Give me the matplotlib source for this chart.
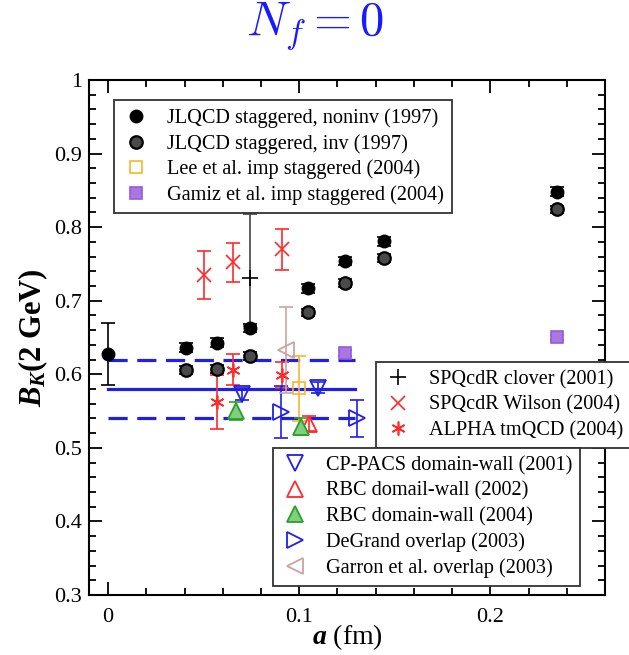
import matplotlib
matplotlib.use('Agg')
import matplotlib.pyplot as plt
from matplotlib.ticker import FixedLocator

plt.rcParams['mathtext.fontset'] = 'custom'
plt.rcParams['mathtext.rm'] = 'Liberation Serif'
plt.rcParams['mathtext.it'] = 'Liberation Serif:italic:bold'
plt.rcParams['mathtext.bf'] = 'Liberation Serif:bold'
plt.rcParams['font.family'] = ['Liberation Serif', 'DejaVu Serif']

# ---------------- data ----------------
jl_noninv_a = [0.0, 0.0405, 0.057, 0.0745, 0.1047, 0.1238, 0.1446, 0.235]
jl_noninv_b = [0.628, 0.636, 0.643, 0.663, 0.717, 0.754, 0.781, 0.848]
jl_noninv_err = [0.042, 0.006, 0.006, 0.006, 0.006, 0.006, 0.006, 0.006]
jl_inv_a = [0.0405, 0.057, 0.0745, 0.1047, 0.1238, 0.1446, 0.235]
jl_inv_b = [0.606, 0.607, 0.625, 0.684, 0.724, 0.758, 0.824]
jl_inv_err = [0.005, 0.005, 0.005, 0.005, 0.005, 0.005, 0.005]
lee_a = [0.100]
lee_b = [0.581]
lee_err = [0.044]
gamiz_a = [0.1238, 0.235]
gamiz_b = [0.629, 0.650]
gamiz_err = [0.004, 0.004]
clover_a = [0.074]
clover_b = [0.731]
clover_err_lo = [0.066]
clover_err_hi = [0.087]
wilson_a = [0.0502, 0.0656, 0.091]
wilson_b = [0.735, 0.752, 0.770]
wilson_err = [0.033, 0.027, 0.028]
alpha_a = [0.057, 0.0656, 0.091]
alpha_b = [0.562, 0.606, 0.599]
alpha_err = [0.037, 0.021, 0.018]
cppacs_a = [0.0703, 0.110]
cppacs_b = [0.573, 0.582]
cppacs_err = [0.008, 0.008]
rbc02_a = [0.105]
rbc02_b = [0.533]
rbc02_err = [0.010]
rbc04_a = [0.067, 0.101]
rbc04_b = [0.550, 0.529]
rbc04_err = [0.012, 0.012]
degrand_a = [0.0904, 0.130]
degrand_b = [0.549, 0.540]
degrand_err = [0.035, 0.025]
garron_a = [0.093]
garron_b = [0.633]
garron_err = [0.058]
band_a = [0.0, 0.129]
band_center = 0.58
band_lo = 0.54
band_hi = 0.62

x_ticks = [0.0, 0.1, 0.2]
x_ticklabels = ['0', '0.1', '0.2']
y_ticks = [0.3, 0.4, 0.5, 0.6, 0.7, 0.8, 0.9, 1.0]
y_ticklabels = ['0.3', '0.4', '0.5', '0.6', '0.7', '0.8', '0.9', '1']
x_minor = [0.02, 0.04, 0.06, 0.08, 0.12, 0.14, 0.16, 0.18, 0.22, 0.24]
y_minor = [0.32, 0.34, 0.36, 0.38, 0.42, 0.44, 0.46, 0.48, 0.52, 0.54, 0.56, 0.58,
           0.62, 0.64, 0.66, 0.68, 0.72, 0.74, 0.76, 0.78, 0.82, 0.84, 0.86, 0.88,
           0.92, 0.94, 0.96, 0.98]

labels1 = ["JLQCD staggered, noninv (1997)", "JLQCD staggered, inv (1997)",
           "Lee et al. imp staggered (2004)", "Gamiz et al. imp staggered (2004)"]
labels2 = ["SPQcdR clover (2001)", "SPQcdR Wilson (2004)", "ALPHA tmQCD (2004)"]
labels3 = ["CP-PACS domain-wall (2001)", "RBC domail-wall (2002)", "RBC domain-wall (2004)",
           "DeGrand overlap (2003)", "Garron et al. overlap (2003)"]

# ---------------- figure ----------------
W, H = 629, 655
fig = plt.figure(figsize=(W / 100, H / 100), dpi=100)
ax = fig.add_axes([89 / W, 1 - 595 / H, (605 - 89) / W, (595 - 80) / H])

BLUE = '#1f1fe6'
RED = '#ff2a2a'
GREEN = '#2aa02a'
ORANGE = '#f5b82e'
PURPLE = '#9a5ad6'
BROWN = '#c8a4a4'
cap = 10.5
elw = 1.2

# horizontal band lines
ax.plot(band_a, [band_center] * 2, color=BLUE, lw=2.3, zorder=1)
ax.plot(band_a, [band_hi] * 2, color=BLUE, lw=2.3, ls=(0, (6, 3)), zorder=1)
ax.plot(band_a, [band_lo] * 2, color=BLUE, lw=2.3, ls=(0, (6, 3)), zorder=1)

def ebar(x, y, yerr, color):
    ax.errorbar(x, y, yerr=yerr, fmt='none', ecolor=color, elinewidth=elw,
                capsize=cap / 2, capthick=elw, zorder=2)

ebar(jl_noninv_a, jl_noninv_b, jl_noninv_err, 'black')
ebar(jl_inv_a, jl_inv_b, jl_inv_err, 'black')
ebar(lee_a, lee_b, lee_err, ORANGE)
ebar(gamiz_a, gamiz_b, gamiz_err, PURPLE)
ebar(clover_a, clover_b, [clover_err_lo, clover_err_hi], '#444444')
ebar(wilson_a, wilson_b, wilson_err, RED)
ebar(alpha_a, alpha_b, alpha_err, RED)
ebar(cppacs_a, cppacs_b, cppacs_err, BLUE)
ebar(rbc02_a, rbc02_b, rbc02_err, RED)
ebar(rbc04_a, rbc04_b, rbc04_err, GREEN)
ebar(degrand_a, degrand_b, degrand_err, BLUE)
ebar(garron_a, garron_b, garron_err, BROWN)

h1 = ax.plot(jl_noninv_a, jl_noninv_b, 'o', ms=9, mfc='black', mec='black', zorder=3)[0]
h2 = ax.plot(jl_inv_a, jl_inv_b, 'o', ms=9, mfc='#4a4a4a', mec='black', mew=1.6, zorder=3)[0]
h3 = ax.plot(lee_a, lee_b, 's', ms=9, mfc='none', mec=ORANGE, mew=1.2, zorder=3)[0]
h4 = ax.plot(gamiz_a, gamiz_b, 's', ms=9, mfc='#a878e0', mec=PURPLE, mew=1.2, zorder=3)[0]
h5 = ax.plot(clover_a, clover_b, '+', ms=12, mec='black', mew=1.2, zorder=3)[0]
h6 = ax.plot(wilson_a, wilson_b, 'x', ms=10, mec=RED, mew=1.2, zorder=3)[0]
h7 = ax.plot(alpha_a, alpha_b, ls='none', marker=(6, 2, 0), ms=10, mec=RED, mew=1.2, zorder=3)[0]
h8 = ax.plot(cppacs_a, cppacs_b, 'v', ms=11, mfc='none', mec=BLUE, mew=1.3, zorder=3)[0]
h9 = ax.plot(rbc02_a, rbc02_b, '^', ms=11, mfc='none', mec=RED, mew=1.3, zorder=3)[0]
h10 = ax.plot(rbc04_a, rbc04_b, '^', ms=11, mfc='#7fcf7f', mec=GREEN, mew=1.3, zorder=3)[0]
h11 = ax.plot(degrand_a, degrand_b, '>', ms=11, mfc='none', mec=BLUE, mew=1.3, zorder=3)[0]
h12 = ax.plot(garron_a, garron_b, '<', ms=11, mfc='none', mec=BROWN, mew=1.3, zorder=3)[0]

ax.set_xlim(-0.01, 0.26)
ax.set_ylim(0.3, 1.0)
ax.xaxis.set_major_locator(FixedLocator(x_ticks))
ax.xaxis.set_minor_locator(FixedLocator(x_minor))
ax.yaxis.set_major_locator(FixedLocator(y_ticks))
ax.yaxis.set_minor_locator(FixedLocator(y_minor))
ax.set_xticklabels(x_ticklabels)
ax.set_yticklabels(y_ticklabels)
ax.tick_params(which='both', direction='in', top=True, right=True, width=1.3, labelsize=16)
ax.tick_params(which='major', length=9.5)
ax.tick_params(which='minor', length=5)
ax.tick_params(axis='x', pad=9)
ax.tick_params(axis='y', pad=5)
for s in ax.spines.values():
    s.set_linewidth(1.5)

ax.set_xlabel(r'$a$ (fm)', fontsize=20, labelpad=-3)
ax.set_ylabel(r'$B_K$(2 GeV)', fontsize=22, fontweight='bold', labelpad=3)

fig.text(0.5, 1 - 26 / H, r'$N_f = 0$', color='#1a1aff', fontsize=35,
         ha='center', va='center', math_fontfamily='cm')

legkw = dict(loc='upper left', bbox_transform=fig.transFigure, borderaxespad=0,
             fontsize=14.6, frameon=True, fancybox=False, edgecolor='#333333',
             borderpad=0.4, labelspacing=0.3, handlelength=1.4,
             handletextpad=0.8, framealpha=1)
leg1 = ax.legend(handles=[h1, h2, h3, h4], labels=labels1,
                 bbox_to_anchor=(114 / W, 1 - 100 / H), **legkw)
ax.add_artist(leg1)
leg2 = ax.legend(handles=[h5, h6, h7], labels=labels2,
                 bbox_to_anchor=(376 / W, 1 - 362 / H), **legkw)
ax.add_artist(leg2)
leg3 = ax.legend(handles=[h8, h9, h10, h11, h12], labels=labels3,
                 bbox_to_anchor=(273 / W, 1 - 448 / H), **legkw)
for lg in (leg1, leg2, leg3):
    lg.get_frame().set_linewidth(1.3)

fig.savefig('out.png', dpi=100)
